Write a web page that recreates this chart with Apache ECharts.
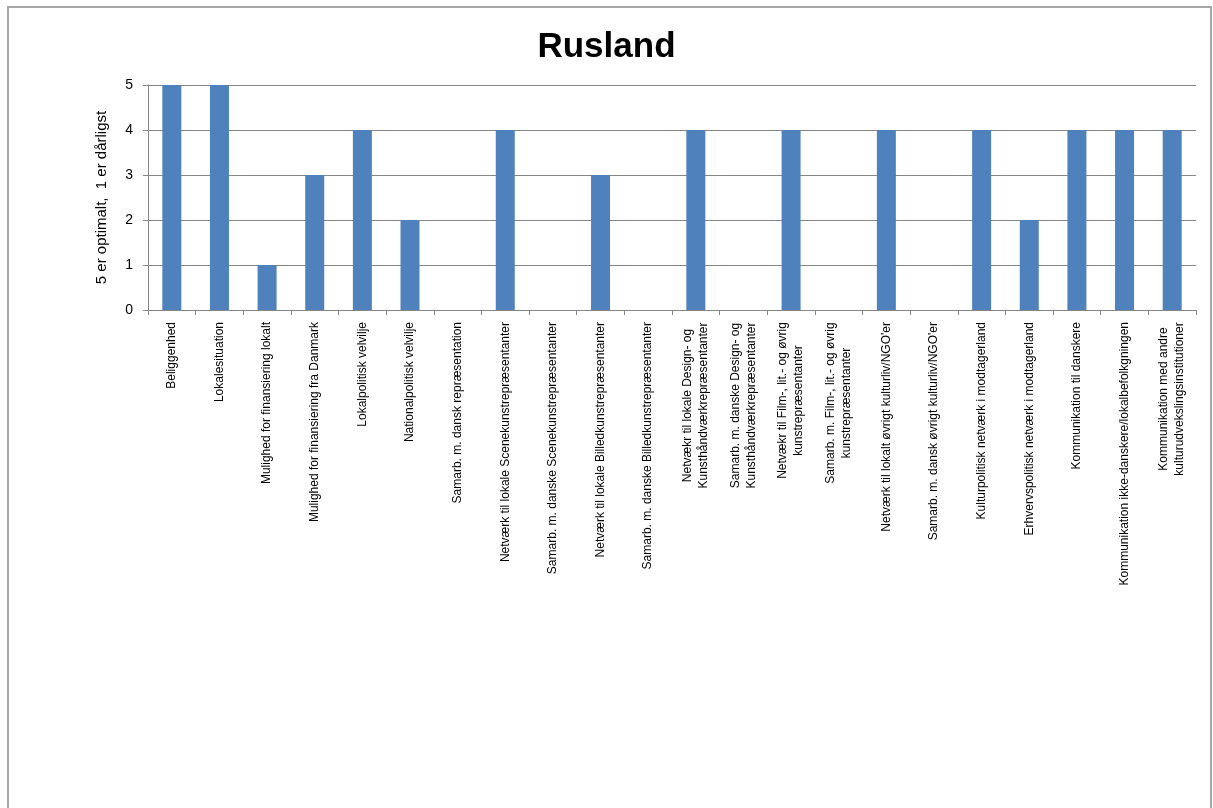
<!DOCTYPE html>
<html>
<head>
<meta charset="utf-8">
<script src="https://cdn.jsdelivr.net/npm/echarts@6/dist/echarts.min.js"></script>
<style>
  html, body { margin: 0; padding: 0; background: #fff; }
  #frame { position: absolute; left: 7px; top: 6px; width: 1201px; height: 830px; border: 2px solid #a6a6a6; }
  #chart { position: absolute; left: 0; top: 0; width: 1213px; height: 808px; }
</style>
</head>
<body>
<div id="frame"></div>
<div id="chart"></div>
<script>
const categories = [
  'Beliggenhed',
  'Lokalesituation',
  'Mulighed for finansiering lokalt',
  'Mulighed for finansiering fra Danmark',
  'Lokalpolitisk velvilje',
  'Nationalpolitisk velvilje',
  'Samarb. m. dansk repræsentation',
  'Netværk til lokale Scenekunstrepræsentanter',
  'Samarb. m. danske Scenekunstrepræsentanter',
  'Netværk til lokale Billedkunstrepræsentanter',
  'Samarb. m. danske Billedkunstrepræsentanter',
  'Netvækr til lokale Design- og\nKunsthåndværkrepræsentanter',
  'Samarb. m. danske Design- og\nKunsthåndværkrepræsentanter',
  'Netvækr til Film-, lit.- og øvrig\nkunstrepræsentanter',
  'Samarb. m. Film-, lit.- og øvrig\nkunstrepræsentanter',
  'Netværk til lokalt øvrigt kulturliv/NGO\'er',
  'Samarb. m. dansk øvrigt kulturliv/NGO\'er',
  'Kulturpolitisk netværk i modtagerland',
  'Erhvervspolitisk netværk i modtagerland',
  'Kommunikation til danskere',
  'Kommunikation ikke-danskere/lokalbefolkgningen',
  'Kommunikation med andre\nkulturudvekslingsinstitutioner'
];
const scores = [5, 5, 1, 3, 4, 2, 0, 4, 0, 3, 0, 4, 0, 4, 0, 4, 0, 4, 2, 4, 4, 4];
const yTicks = [0, 1, 2, 3, 4, 5];

const fontFamily = '"Liberation Sans", Arial, sans-serif';

// two-line labels are centred line by line (as in Excel), keeping the block against the axis
const ctx = document.createElement('canvas').getContext('2d');
ctx.font = '12px ' + fontFamily;
const axisData = categories.map(c => {
  if (c.indexOf('\n') < 0) return c;
  const w = Math.ceil(Math.max(...c.split('\n').map(l => ctx.measureText(l).width)));
  return { value: c, textStyle: { align: 'center', padding: [0, w, 0, 0] } };
});

const chart = echarts.init(document.getElementById('chart'));
chart.setOption({
  animation: false,
  title: {
    text: 'Rusland',
    left: 'center',
    top: 25,
    textStyle: { fontSize: 35, fontWeight: 'bold', color: '#000', fontFamily: fontFamily }
  },
  grid: { left: 148, top: 85, width: 1048, height: 225 },
  xAxis: {
    type: 'category',
    data: axisData,
    axisLine: { lineStyle: { color: '#868686' } },
    axisTick: { show: true, length: 5, lineStyle: { color: '#868686' } },
    axisLabel: {
      interval: 0,
      rotate: 90,
      margin: 12,
      fontSize: 12,
      lineHeight: 16,
      color: '#000',
      fontFamily: fontFamily
    }
  },
  yAxis: {
    type: 'value',
    min: yTicks[0],
    max: yTicks[yTicks.length - 1],
    interval: 1,
    name: '5 er optimalt,  1 er dårligst',
    nameLocation: 'middle',
    nameGap: 39,
    nameTextStyle: { fontSize: 15, color: '#000', fontFamily: fontFamily },
    axisLine: { show: true, lineStyle: { color: '#868686' } },
    axisTick: { show: true, length: 5, lineStyle: { color: '#868686' } },
    axisLabel: { fontSize: 14, color: '#000', margin: 15, fontFamily: fontFamily },
    splitLine: { lineStyle: { color: '#868686' } }
  },
  series: [{
    type: 'bar',
    data: scores,
    barWidth: 19,
    itemStyle: { color: '#4F81BD' }
  }]
});
</script>
</body>
</html>
